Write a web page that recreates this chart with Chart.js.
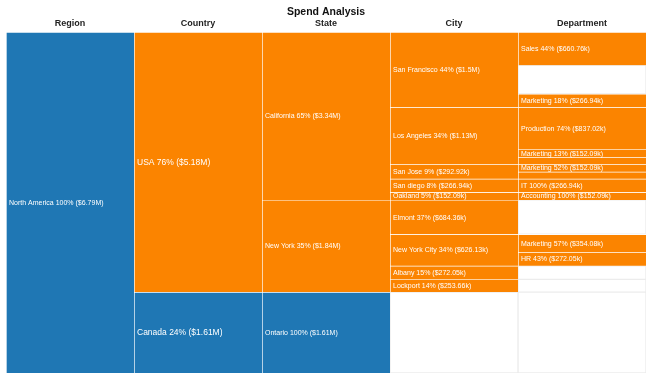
<!DOCTYPE html>
<html>
<head>
<meta charset="utf-8">
<script src="https://cdn.jsdelivr.net/npm/chart.js@4/dist/chart.umd.min.js"></script>
<style>
  html, body { margin: 0; padding: 0; background: #fff; }
  #wrap { width: 650px; height: 383px; }
</style>
</head>
<body>
<div id="wrap"><canvas id="spend"></canvas></div>
<script>
// Column headers (one per hierarchy level)
const levels = ['Region', 'Country', 'State', 'City', 'Department'];

// Region level
const regionNames = ['North America'];
const regionValues = [6788150];
const regionShares = [100];

// Country level
const countryNames = ['USA', 'Canada'];
const countryParents = ['North America', 'North America'];
const countryValues = [5178150, 1610000];
const countryShares = [76, 24];

// State level
const stateNames = ['California', 'New York', 'Ontario'];
const stateParents = ['USA', 'USA', 'Canada'];
const stateValues = [3341950, 1836200, 1610000];
const stateShares = [65, 35, 100];

// City level
const cityNames = ['San Francisco', 'Los Angeles', 'San Jose', 'San diego', 'Oakland',
  'Elmont', 'New York City', 'Albany', 'Lockport'];
const cityParents = ['California', 'California', 'California', 'California', 'California',
  'New York', 'New York', 'New York', 'New York'];
const cityValues = [1500000, 1130000, 292920, 266940, 152090, 684360, 626130, 272050, 253660];
const cityShares = [44, 34, 9, 8, 5, 37, 34, 15, 14];

// Department level ('' = blank department, drawn empty)
const deptNames = ['Sales', '', 'Marketing', 'Production', 'Marketing', 'Other',
  'Marketing', 'Other', 'IT', 'Accounting', 'Marketing', 'HR'];
const deptParents = ['San Francisco', 'San Francisco', 'San Francisco', 'Los Angeles', 'Los Angeles', 'Los Angeles',
  'San Jose', 'San Jose', 'San diego', 'Oakland', 'New York City', 'New York City'];
const deptValues = [660760, 572300, 266940, 837020, 152090, 140890, 152090, 140830, 266940, 152090, 354080, 272050];
const deptShares = [44, null, 18, 74, 13, 12, 52, 48, 100, 100, 57, 43];

const BLUE = '#1f77b4';
const ORANGE = '#fb8400';
const BRANCH_COLORS = { 'North America': BLUE, 'USA': ORANGE, 'Canada': BLUE };
const FONT = "'Liberation Sans', Arial, sans-serif";

function fmtMoney(v) {
  if (v >= 1e6) return '$' + parseFloat((v / 1e6).toFixed(2)) + 'M';
  return '$' + (v / 1e3).toFixed(2) + 'k';
}

// Build the partition: each node gets [start, end] along the value axis
const levelData = [
  { names: regionNames, parents: regionNames.map(() => null), values: regionValues, shares: regionShares },
  { names: countryNames, parents: countryParents, values: countryValues, shares: countryShares },
  { names: stateNames, parents: stateParents, values: stateValues, shares: stateShares },
  { names: cityNames, parents: cityParents, values: cityValues, shares: cityShares },
  { names: deptNames, parents: deptParents, values: deptValues, shares: deptShares }
];

const nodes = [];
const byName = [{}, {}, {}, {}, {}];
levelData.forEach((lv, li) => {
  const offsets = {};
  lv.names.forEach((name, i) => {
    const parentName = lv.parents[i];
    const parent = parentName ? byName[li - 1][parentName] : null;
    const base = parent ? parent.start : 0;
    const key = parentName || '_root';
    offsets[key] = offsets[key] || 0;
    const start = base + offsets[key];
    const end = start + lv.values[i];
    offsets[key] += lv.values[i];
    const branch = li <= 1 ? name : parent.branch;
    const node = {
      level: li, name, start, end, branch, hasChild: false,
      blank: name === '',
      text: name === '' ? '' : `${name} ${lv.shares[i]}% (${fmtMoney(lv.values[i])})`
    };
    if (parent) parent.hasChild = true;
    if (name !== '') byName[li][name] = node;
    nodes.push(node);
  });
});

// Leaves that stop early get empty placeholder boxes in the remaining columns
nodes.slice().forEach(n => {
  if (n.blank || n.hasChild || n.level === levels.length - 1) return;
  for (let l = n.level + 1; l < levels.length; l++) {
    nodes.push({ level: l, name: '', start: n.start, end: n.end, blank: true, text: '' });
  }
});

const datasets = nodes.map(n => ({
  label: n.name,
  text: n.text,
  level: n.level,
  data: [{ x: levels[n.level], y: [n.start, n.end] }],
  backgroundColor: n.blank ? '#ffffff' : BRANCH_COLORS[n.branch],
  borderColor: n.blank ? '#ececec' : 'rgba(255,255,255,0.55)',
  borderWidth: n.blank ? 1 : { top: 1, left: 1, right: 0, bottom: 0 },
  borderSkipped: false,
  grouped: false,
  categoryPercentage: 1,
  barPercentage: 1
}));

// Draws "name share% (value)" inside each box that is tall enough
const boxLabels = {
  id: 'boxLabels',
  afterDatasetsDraw(chart) {
    const ctx = chart.ctx;
    ctx.save();
    ctx.fillStyle = '#ffffff';
    ctx.textAlign = 'left';
    ctx.textBaseline = 'middle';
    chart.data.datasets.forEach((ds, i) => {
      if (!ds.text) return;
      const bar = chart.getDatasetMeta(i).data[0];
      const { x, y, base, width } = bar.getProps(['x', 'y', 'base', 'width'], true);
      const h = Math.abs(base - y);
      if (h < 7.3) return;
      ctx.font = (ds.level === 1 ? '8.5px ' : '7px ') + FONT;
      ctx.fillText(ds.text, x - width / 2 + 3, (y + base) / 2 + 0.5);
    });
    ctx.restore();
  }
};

const chart = new Chart(document.getElementById('spend'), {
  type: 'bar',
  data: { labels: levels, datasets },
  options: {
    responsive: true,
    maintainAspectRatio: false,
    animation: false,
    layout: { padding: { left: 6, right: 4, top: 0, bottom: 10 } },
    plugins: {
      legend: { display: false },
      tooltip: { enabled: false },
      title: {
        display: true,
        text: 'Spend Analysis',
        color: '#111',
        font: { family: FONT, size: 10.5, weight: 'bold', lineHeight: 0.4 },
        padding: { top: 10, bottom: 1 }
      }
    },
    scales: {
      x: {
        position: 'top',
        grid: { display: false, drawTicks: false },
        border: { display: false },
        ticks: { color: '#222', padding: 3, font: { family: FONT, size: 9, weight: 'bold' } }
      },
      y: {
        min: 0,
        max: regionValues[0],
        reverse: true,
        display: false
      }
    }
  },
  plugins: [boxLabels]
});
</script>
</body>
</html>
